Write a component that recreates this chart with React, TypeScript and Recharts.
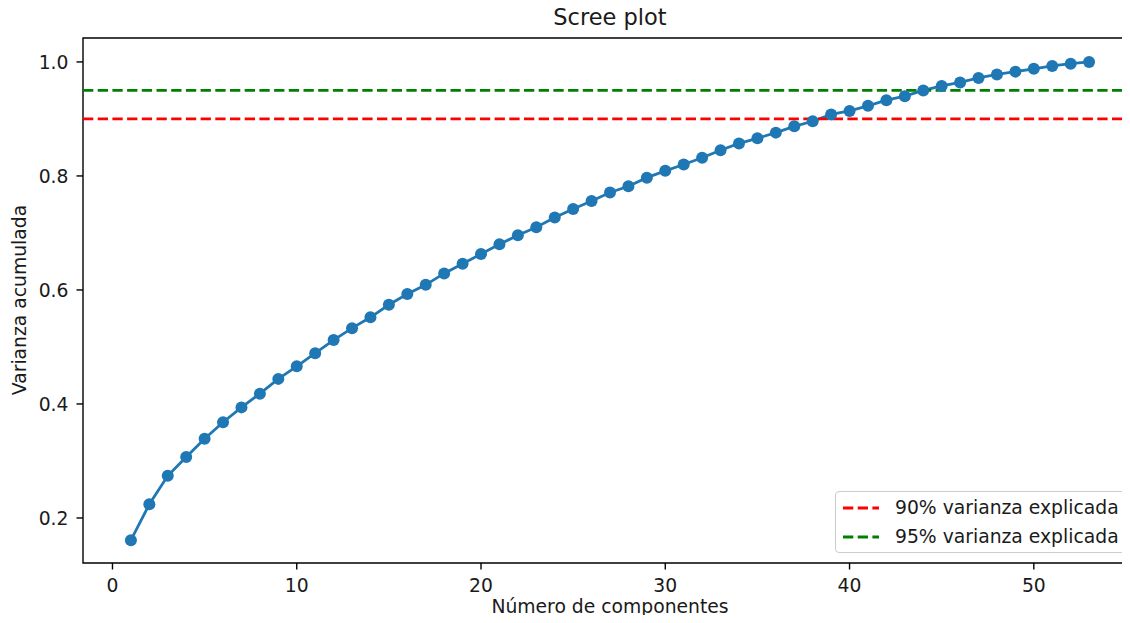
import { LineChart, Line, XAxis, YAxis, ReferenceLine, ReferenceArea } from "recharts";

// varianza explicada acumulada por número de componentes (1..53)
const varianza = [
  0.161, 0.224, 0.274, 0.307, 0.339, 0.368, 0.394, 0.418, 0.444, 0.466,
  0.489, 0.512, 0.533, 0.552, 0.574, 0.593, 0.609, 0.629, 0.646, 0.663,
  0.68, 0.696, 0.71, 0.727, 0.742, 0.756, 0.771, 0.782, 0.797, 0.809,
  0.82, 0.832, 0.845, 0.857, 0.866, 0.876, 0.887, 0.896, 0.908, 0.914,
  0.923, 0.933, 0.94, 0.95, 0.958, 0.964, 0.972, 0.978, 0.983, 0.988,
  0.993, 0.997, 1.0,
];

const xTicks = [0, 10, 20, 30, 40, 50];
const yTicks = [0.2, 0.4, 0.6, 0.8, 1.0];

const umbrales = [
  { valor: 0.9, color: "#ff0000", label: "90% varianza explicada" },
  { valor: 0.95, color: "#008000", label: "95% varianza explicada" },
];

const X_DOMAIN: [number, number] = [-1.6, 55.6];
const Y_DOMAIN: [number, number] = [0.121, 1.042];

const FONT = "DejaVu Sans";
const TXT = "#1a1a1a";
const FS = 18.75;
const DASH = "10.3 4.4";

const data = varianza.map((v, i) => ({ n: i + 1, v }));

// leyenda dibujada encima del gráfico (para no quitar espacio al área de trazado)
function Leyenda() {
  return (
    <div
      style={{
        position: "absolute",
        left: 835,
        top: 491,
        width: 288,
        height: 59,
        border: "1px solid #cccccc",
        borderRadius: 4,
        background: "rgba(255,255,255,0.8)",
        fontSize: FS,
        paddingTop: 1,
      }}
    >
      {umbrales.map((u) => (
        <div key={u.label} style={{ display: "flex", alignItems: "center", height: 29, whiteSpace: "nowrap" }}>
          <svg width={38} height={10} style={{ marginLeft: 6, marginRight: 15 }}>
            <line x1={1} x2={37} y1={5} y2={5} stroke={u.color} strokeWidth={2.8} strokeDasharray={DASH} />
          </svg>
          <span>{u.label}</span>
        </div>
      ))}
    </div>
  );
}

export default function App() {
  return (
    <div
      style={{
        position: "relative",
        width: 1130,
        height: 623,
        margin: -8,
        overflow: "hidden",
        background: "#fff",
        fontFamily: FONT,
        color: TXT,
      }}
    >
      <LineChart width={1145} height={623} data={data} margin={{ top: 38, right: 8, bottom: 30, left: 0 }}>
        <XAxis
          type="number"
          dataKey="n"
          domain={X_DOMAIN}
          ticks={xTicks}
          allowDataOverflow
          height={30}
          axisLine={false}
          tickLine={{ stroke: "#000", strokeWidth: 1.4 }}
          tickSize={6.5}
          tickMargin={9}
          tick={{ fontSize: FS, fill: TXT, fontFamily: FONT }}
        />
        <YAxis
          type="number"
          domain={Y_DOMAIN}
          ticks={yTicks}
          allowDataOverflow
          width={83}
          axisLine={false}
          tickLine={{ stroke: "#000", strokeWidth: 1.4 }}
          tickSize={6.5}
          tickMargin={8}
          tickFormatter={(v: number) => v.toFixed(1)}
          tick={{ fontSize: FS, fill: TXT, fontFamily: FONT }}
        />
        <Line
          type="linear"
          dataKey="v"
          stroke="#1f77b4"
          strokeWidth={2.8}
          dot={{ r: 6, fill: "#1f77b4", stroke: "none" }}
          activeDot={false}
          isAnimationActive={false}
        />
        {umbrales.map((u) => (
          <ReferenceLine
            key={u.label}
            y={u.valor}
            stroke={u.color}
            strokeWidth={2.8}
            strokeDasharray={DASH}
          />
        ))}
        <ReferenceArea
          x1={X_DOMAIN[0]}
          x2={X_DOMAIN[1]}
          y1={Y_DOMAIN[0]}
          y2={Y_DOMAIN[1]}
          fill="none"
          stroke="#000"
          strokeWidth={1.4}
        />
      </LineChart>
      <Leyenda />
      <div
        style={{
          position: "absolute",
          left: 0,
          width: 1220,
          top: 4,
          textAlign: "center",
          fontSize: 22.5,
          lineHeight: "26px",
        }}
      >
        Scree plot
      </div>
      <div
        style={{
          position: "absolute",
          left: 0,
          width: 1220,
          top: 596,
          textAlign: "center",
          fontSize: FS,
          lineHeight: "22px",
        }}
      >
        Número de componentes
      </div>
      <div
        style={{
          position: "absolute",
          left: 20,
          top: 300,
          transform: "translate(-50%, -50%) rotate(-90deg)",
          fontSize: FS,
          lineHeight: "22px",
          whiteSpace: "nowrap",
        }}
      >
        Varianza acumulada
      </div>
    </div>
  );
}
